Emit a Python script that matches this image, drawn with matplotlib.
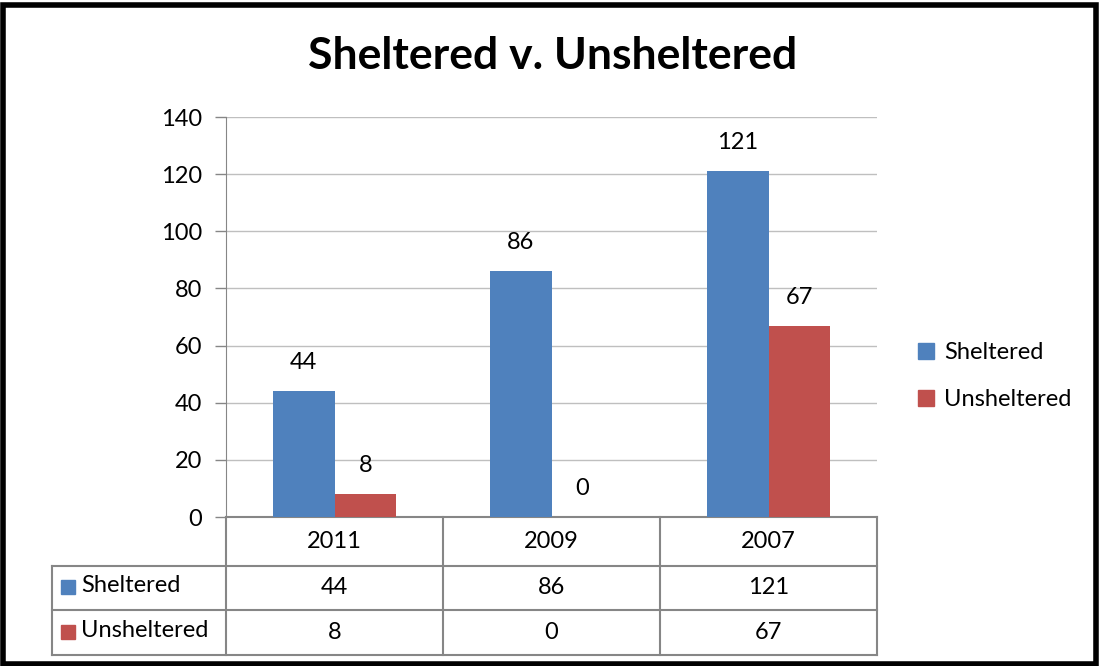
import matplotlib.pyplot as plt
import matplotlib.transforms as mtransforms
from matplotlib.lines import Line2D
from matplotlib.patches import Rectangle, Patch
import numpy as np

plt.rcParams['font.family'] = ['Lato', 'DejaVu Sans']

# datos
years = ['2011', '2009', '2007']
series = ['Sheltered', 'Unsheltered']
sheltered = [44, 86, 121]
unsheltered = [8, 0, 67]
colors = ['#4F81BD', '#C0504D']
title = 'Sheltered v. Unsheltered'

fs = 17
fig = plt.figure(figsize=(11, 6.66), dpi=100)
ax = fig.add_axes([226 / 1100, 1 - 517 / 666, (877 - 226) / 1100, 400 / 666])

x = np.arange(len(years))
w = 0.285
values = [sheltered, unsheltered]
for k, (name, vals) in enumerate(zip(series, values)):
    pos = x + (k - 0.5) * w
    ax.bar(pos, vals, width=w, color=colors[k], zorder=3)
    for p, v in zip(pos, vals):
        ax.annotate(str(v), (p, v), xytext=(0, 13), textcoords='offset points',
                    ha='center', va='bottom', fontsize=fs)

ax.set_xlim(-0.5, len(years) - 0.5)
ax.set_ylim(0, 140)
ax.set_yticks(range(0, 141, 20))
ax.yaxis.grid(True, color='#BFBFBF', linewidth=1, zorder=0)
ax.tick_params(axis='y', labelsize=fs, length=8, color='#868686', pad=9, width=1)
ax.tick_params(axis='x', bottom=False, labelbottom=False)
for s in ['top', 'right', 'bottom']:
    ax.spines[s].set_visible(False)
ax.spines['left'].set_color('#868686')

# tabla de datos
tr = mtransforms.blended_transform_factory(ax.transData, ax.transAxes)
gray = '#868686'
h0, h1, h2 = -49 / 400, -93 / 400, -138 / 400
x_left = -0.5 - (226 - 52) / 217
xr = len(years) - 0.5
kw = dict(transform=tr, color=gray, linewidth=1.5, clip_on=False)
ax.add_line(Line2D([-0.5, xr], [0, 0], **kw))
ax.add_line(Line2D([x_left, xr], [h0, h0], **kw))
ax.add_line(Line2D([x_left, xr], [h1, h1], **kw))
ax.add_line(Line2D([x_left, xr], [h2, h2], **kw))
ax.add_line(Line2D([x_left, x_left], [h0, h2], **kw))
for b in np.arange(len(years) + 1) - 0.5:
    ax.add_line(Line2D([b, b], [0, h2], **kw))

for i, yr in enumerate(years):
    ax.text(i, h0 / 2, yr, transform=tr, ha='center', va='center', fontsize=fs)
    ax.text(i, (h0 + h1) / 2, str(sheltered[i]), transform=tr, ha='center', va='center', fontsize=fs)
    ax.text(i, (h1 + h2) / 2, str(unsheltered[i]), transform=tr, ha='center', va='center', fontsize=fs)

for k, (name, yc) in enumerate(zip(series, [(h0 + h1) / 2, (h1 + h2) / 2])):
    ax.add_patch(Rectangle((x_left + 0.042, yc - 0.016), 0.062, 0.036, transform=tr,
                           color=colors[k], clip_on=False))
    ax.text(x_left + 0.135, yc + 0.006, name, transform=tr, ha='left', va='center', fontsize=fs)

# leyenda
handles = [Patch(color=c, label=n) for c, n in zip(colors, series)]
fig.legend(handles=handles, loc='center left', bbox_to_anchor=(897 / 1100, 1 - 376 / 666),
           frameon=False, fontsize=fs, handlelength=0.65, handleheight=0.65,
           labelspacing=1.1, handletextpad=0.45)

fig.text(553 / 1100, 1 - 56 / 666, title, ha='center', va='center', fontsize=32, fontweight='bold')

# marco
fig.add_artist(Rectangle((0.0025, 0.003), 0.994, 0.99, transform=fig.transFigure,
                         fill=False, edgecolor='black', linewidth=4))

fig.savefig('out.png', dpi=100)
